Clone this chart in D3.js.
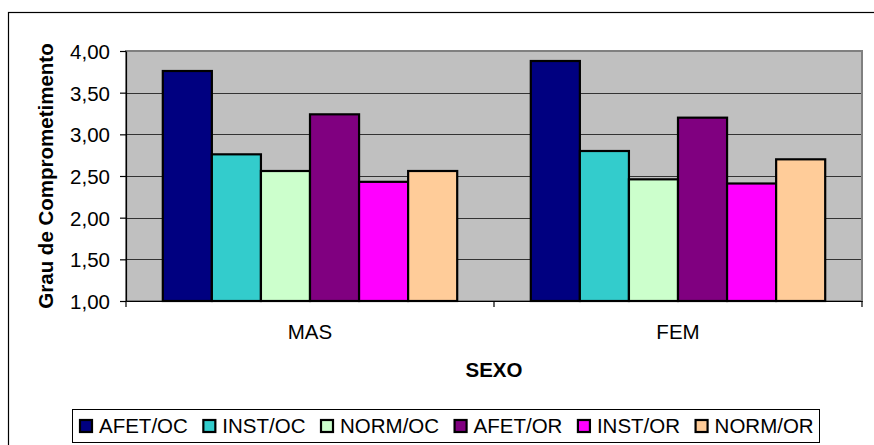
<!DOCTYPE html>
<html><head><meta charset="utf-8">
<script src="https://cdn.jsdelivr.net/npm/d3@7"></script>
<style>
html,body{margin:0;padding:0;background:#fff;}
svg{display:block;font-family:"Liberation Sans",Arial,sans-serif;}
</style></head>
<body><svg id="c" width="874" height="445"></svg>
<script>
const categories = ["MAS", "FEM"];
const seriesNames = ["AFET/OC", "INST/OC", "NORM/OC", "AFET/OR", "INST/OR", "NORM/OR"];
const seriesColors = ["#000080", "#33CCCC", "#CCFFCC", "#800080", "#FF00FF", "#FFCC99"];
const valuesMAS = [3.76, 2.76, 2.56, 3.24, 2.43, 2.56];
const valuesFEM = [3.88, 2.80, 2.46, 3.20, 2.41, 2.70];
const yTicks = [1.0, 1.5, 2.0, 2.5, 3.0, 3.5, 4.0];
const yTitle = "Grau de Comprometimento";
const xTitle = "SEXO";

const FS = 20.5;
const values = {MAS: valuesMAS, FEM: valuesFEM};
const svg = d3.select("#c");
const L = 126, R = 862, T = 51, B = 301;

// outer chart border (extends beyond the visible window)
svg.append("rect").attr("x", 8.5).attr("y", 12.5).attr("width", 900).attr("height", 500)
  .attr("fill", "#fff").attr("stroke", "#000").attr("stroke-width", 1.2);

const x0 = d3.scaleBand().domain(categories).range([L, R]).padding(0);
const x1 = d3.scaleBand().domain(seriesNames).range([0, x0.bandwidth()]).paddingInner(0).paddingOuter(0.75);
const y = d3.scaleLinear().domain([1, 4]).range([B, T]);
const color = d3.scaleOrdinal().domain(seriesNames).range(seriesColors);

// plot area
svg.append("rect").attr("x", L).attr("y", T).attr("width", R - L).attr("height", B - T)
  .attr("fill", "#C0C0C0");

// gridlines
svg.append("g").selectAll("line").data(yTicks.slice(1, -1)).join("line")
  .attr("x1", L).attr("x2", R).attr("y1", d => Math.round(y(d)) + 0.5).attr("y2", d => Math.round(y(d)) + 0.5)
  .attr("stroke", "#333").attr("stroke-width", 1.2);

// plot border
svg.append("rect").attr("x", L).attr("y", T).attr("width", R - L).attr("height", B - T)
  .attr("fill", "none").attr("stroke", "#808080").attr("stroke-width", 2);

// bars
const groups = svg.append("g").selectAll("g").data(categories).join("g")
  .attr("transform", d => `translate(${x0(d)},0)`);
groups.selectAll("rect").data(c => seriesNames.map((s, i) => ({s, v: values[c][i]}))).join("rect")
  .attr("x", d => x1(d.s)).attr("width", x1.bandwidth())
  .attr("y", d => y(d.v)).attr("height", d => y(1) - y(d.v))
  .attr("fill", d => color(d.s)).attr("stroke", "#000").attr("stroke-width", 2.2);

// y axis
const yAxis = d3.axisLeft(y).tickValues(yTicks).tickSize(6).tickSizeOuter(0)
  .tickFormat(d => d3.format(".2f")(d).replace(".", ","));
const gy = svg.append("g").attr("transform", `translate(${L},0)`).call(yAxis);
gy.select(".domain").attr("stroke", "#000").attr("stroke-width", 1.2);
gy.selectAll(".tick line").attr("stroke", "#000").attr("stroke-width", 1.2);
gy.selectAll(".tick text").attr("font-size", FS).attr("font-family", "Liberation Sans, Arial, sans-serif")
  .attr("fill", "#000").attr("x", -16).attr("dy", "0.36em");

// x axis
const xAxis = d3.axisBottom(x0).tickSize(0).tickSizeOuter(0);
const gx = svg.append("g").attr("transform", `translate(0,${B})`).call(xAxis);
gx.select(".domain").attr("stroke", "#000").attr("stroke-width", 1.2);
gx.selectAll(".tick text").attr("font-size", FS).attr("font-family", "Liberation Sans, Arial, sans-serif")
  .attr("fill", "#000").attr("y", 38).attr("dy", 0);
// category boundary ticks
const bounds = [L, ...categories.slice(1).map(c => x0(c)), R];
gx.append("g").selectAll("line").data(bounds).join("line")
  .attr("x1", d => d).attr("x2", d => d).attr("y1", 0).attr("y2", 6).attr("stroke", "#000").attr("stroke-width", 1.2);

// axis titles
svg.append("text").attr("transform", `translate(53,${(T + B) / 2}) rotate(-90)`)
  .attr("text-anchor", "middle").attr("font-size", FS).attr("font-weight", "bold").text(yTitle);
svg.append("text").attr("x", (L + R) / 2).attr("y", 377)
  .attr("text-anchor", "middle").attr("font-size", FS).attr("font-weight", "bold").text(xTitle);

// legend
const leg = svg.append("g");
leg.append("rect").attr("x", 72.5).attr("y", 409.5).attr("width", 747).attr("height", 33)
  .attr("fill", "#fff").attr("stroke", "#000").attr("stroke-width", 1);
let lx = 80;
seriesNames.forEach((s, i) => {
  leg.append("rect").attr("x", lx).attr("y", 420).attr("width", 12).attr("height", 12)
    .attr("fill", color(s)).attr("stroke", "#000").attr("stroke-width", 2.2);
  const t = leg.append("text").attr("x", lx + 19).attr("y", 433).attr("font-size", FS).text(s);
  lx = lx + 19 + t.node().getComputedTextLength() + 15.5;
});
</script></body></html>
